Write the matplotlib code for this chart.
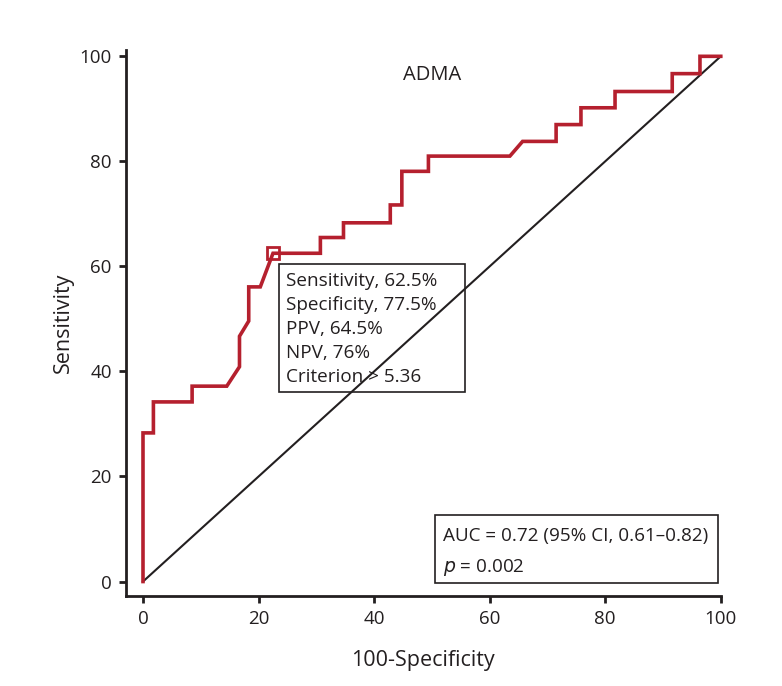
import matplotlib
matplotlib.use("Agg")
import matplotlib.pyplot as plt
from matplotlib.patches import Rectangle

plt.rcParams['font.family'] = ['Open Sans', 'DejaVu Sans']

# ROC curve (100-Specificity, Sensitivity)
fpr = [0, 0, 1.8, 1.8, 8.5, 8.5, 14.5, 16.7, 16.7, 18.3, 18.3, 20.3, 22.5,
       30.7, 30.7, 34.7, 34.7, 42.8, 42.8, 44.8, 44.8, 49.4, 49.4, 63.5, 65.7,
       71.5, 71.5, 75.8, 75.8, 81.7, 81.7, 91.6, 91.6, 96.4, 96.4, 100]
tpr = [0, 28.3, 28.3, 34.2, 34.2, 37.2, 37.2, 40.9, 46.7, 49.6, 56.1, 56.1, 62.5,
       62.5, 65.5, 65.5, 68.3, 68.3, 71.7, 71.7, 78.1, 78.1, 81.0, 81.0, 83.8,
       83.8, 87.0, 87.0, 90.2, 90.2, 93.3, 93.3, 96.7, 96.7, 100, 100]
criterion_point = (22.5, 62.5)
ref_line = [0, 100]

xticks = [0, 20, 40, 60, 80, 100]
yticks = [0, 20, 40, 60, 80, 100]

stats_lines = ["Sensitivity, 62.5%", "Specificity, 77.5%", "PPV, 64.5%",
               "NPV, 76%", "Criterion > 5.36"]
auc_lines = ["AUC = 0.72 (95% CI, 0.61\u20130.82)", "$p$ = 0.002"]

red = "#b5202e"
dark = "#231f20"

fig = plt.figure(figsize=(7.82, 6.86), dpi=100)
ax = fig.add_axes([0.1607, 0.1316, 0.761, 0.7955])
ax.set_xlim(-3, 100)
ax.set_ylim(-2.7, 101.2)

ax.plot(ref_line, ref_line, color=dark, lw=1.5, clip_on=False, zorder=2)
ax.plot(fpr, tpr, color=red, lw=2.6, clip_on=False, zorder=3,
        solid_joinstyle='miter')
ax.plot([criterion_point[0]], [criterion_point[1]], marker='s', ms=8.5,
        mfc='none', mec=red, mew=2, clip_on=False, zorder=4)

for s in ['top', 'right']:
    ax.spines[s].set_visible(False)
for s in ['left', 'bottom']:
    ax.spines[s].set_linewidth(2)
    ax.spines[s].set_color(dark)

ax.set_xticks(xticks)
ax.set_yticks(yticks)
ax.tick_params(direction='out', length=5, width=2, color=dark,
               labelsize=13.5, labelcolor=dark, pad=5)

ax.set_xlabel("100-Specificity", fontsize=15.5, color=dark, labelpad=16)
ax.set_ylabel("Sensitivity", fontsize=15.5, color=dark, labelpad=4)
ax.text(50, 96.4, "ADMA", ha='center', va='center', fontsize=14.5, color=dark)

# Stats box
ax.add_patch(Rectangle((23.6, 36.1), 55.8 - 23.6, 60.4 - 36.1, fill=False,
                       ec=dark, lw=1.2, zorder=5))
for i, line in enumerate(stats_lines):
    ax.text(24.8, 57.3 - i * 4.57, line, ha='left', va='center',
            fontsize=13.6, color=dark, zorder=6)

# AUC box
ax.add_patch(Rectangle((50.6, -0.25), 99.5 - 50.6, 12.7 + 0.25, fill=False,
                       ec=dark, lw=1.2, zorder=5))
for i, line in enumerate(auc_lines):
    ax.text(51.9, 8.7 - i * 6.1, line, ha='left', va='center',
            fontsize=13.6, color=dark, zorder=6)

fig.savefig("out.png", dpi=100)
